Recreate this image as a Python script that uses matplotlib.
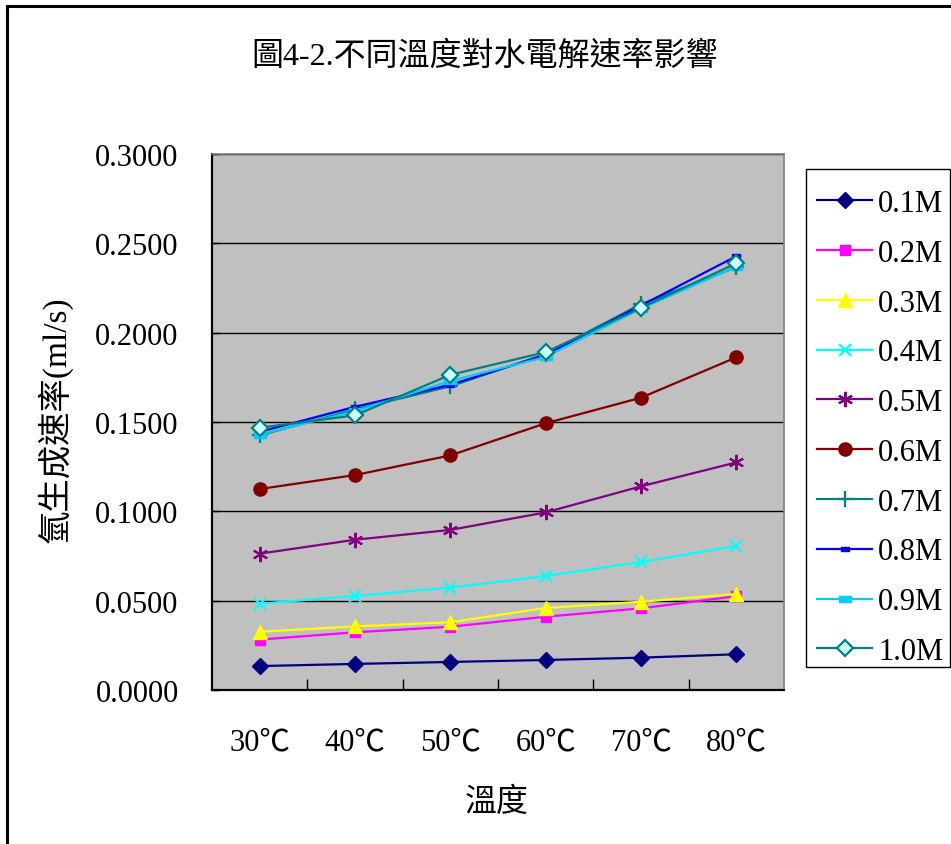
import matplotlib
matplotlib.use("Agg")
import matplotlib.pyplot as plt
from matplotlib.patches import Rectangle
from matplotlib.path import Path
import matplotlib.ticker as mticker

plt.rcParams['font.family'] = ['Liberation Serif', 'Noto Sans CJK TC']

# ---- data -------------------------------------------------------------
temperatures = ["30℃", "40℃", "50℃", "60℃", "70℃", "80℃"]
concentrations = ["0.1M", "0.2M", "0.3M", "0.4M", "0.5M",
                  "0.6M", "0.7M", "0.8M", "0.9M", "1.0M"]

rate_01M = [0.0134, 0.0146, 0.0157, 0.0168, 0.0181, 0.0200]
rate_02M = [0.0282, 0.0323, 0.0354, 0.0410, 0.0457, 0.0525]
rate_03M = [0.0326, 0.0356, 0.0379, 0.0459, 0.0494, 0.0537]
rate_04M = [0.0483, 0.0526, 0.0573, 0.0638, 0.0716, 0.0806]
rate_05M = [0.0763, 0.0841, 0.0896, 0.0994, 0.1140, 0.1274]
rate_06M = [0.1125, 0.1203, 0.1313, 0.1493, 0.1636, 0.1862]
rate_07M = [0.1425, 0.1570, 0.1700, 0.1880, 0.2160, 0.2366]
rate_08M = [0.1445, 0.1585, 0.1708, 0.1876, 0.2152, 0.2428]
rate_09M = [0.1430, 0.1560, 0.1730, 0.1864, 0.2135, 0.2370]
rate_10M = [0.1468, 0.1537, 0.1764, 0.1891, 0.2139, 0.2389]

rates = [rate_01M, rate_02M, rate_03M, rate_04M, rate_05M,
         rate_06M, rate_07M, rate_08M, rate_09M, rate_10M]

# ---- styles -----------------------------------------------------------
short_dash = Path([(-1, -0.45), (1, -0.45), (1, 0.45), (-1, 0.45), (-1, -0.45)],
                  [Path.MOVETO, Path.LINETO, Path.LINETO, Path.LINETO, Path.CLOSEPOLY])

styles = [
    dict(color="#000080", marker="D", ms=8.5, mfc="#000080", mec="#000080"),
    dict(color="#FF00FF", marker="s", ms=7.5, mfc="#FF00FF", mec="#FF00FF"),
    dict(color="#FFFF00", marker="^", ms=10, mfc="#FFFF00", mec="#FFFF00"),
    dict(color="#00FFFF", marker="x", ms=9, mew=1.6, mec="#00FFFF"),
    dict(color="#800080", marker=(6, 2, 0), ms=11, mew=1.5, mec="#800080"),
    dict(color="#800000", marker="o", ms=9.5, mfc="#800000", mec="#800000"),
    dict(color="#008080", marker="+", ms=11, mew=1.6, mec="#008080"),
    dict(color="#0000FF", marker=short_dash, ms=6, mfc="#0000FF", mec="#0000FF"),
    dict(color="#00CCFF", marker=short_dash, ms=9, mfc="#00CCFF", mec="#00CCFF"),
    dict(color="#008080", marker="D", ms=8.5, mew=1.6, mfc="#CCFFFF", mec="#008080"),
]

W, H = 951, 845
fig = plt.figure(figsize=(W / 100, H / 100), dpi=100)
fig.patch.set_facecolor("white")

left, right, top, bottom = 212, 784, 155, 691
ax = fig.add_axes([left / W, 1 - bottom / H, (right - left) / W, (bottom - top) / H])
ax.set_facecolor("#C0C0C0")

x = list(range(len(temperatures)))
for label, values, st in zip(concentrations, rates, styles):
    ax.plot(x, values, label=label, linewidth=1.6, clip_on=False, **st)

# axes
ax.set_xlim(-0.5, len(temperatures) - 0.5)
ax.set_ylim(0, 0.3)
ax.yaxis.set_major_locator(mticker.MultipleLocator(0.05))
ax.yaxis.set_major_formatter(mticker.FormatStrFormatter("%.4f"))
ax.grid(axis="y", color="black", linewidth=1)
ax.set_axisbelow(True)

ax.set_xticks([i + 0.5 for i in x[:-1]])
ax.set_xticklabels([])
ax.set_xticks(x, minor=True)
ax.set_xticklabels(temperatures, minor=True)
ax.tick_params(axis="x", which="major", direction="in", length=8, width=1, color="black")
ax.tick_params(axis="x", which="minor", length=0, pad=27, labelsize=22)
ax.tick_params(axis="y", direction="in", length=5, width=1, pad=24, labelsize=22)

for side in ("top", "right"):
    ax.spines[side].set_color("#808080")
    ax.spines[side].set_linewidth(1.2)
for side in ("left", "bottom"):
    ax.spines[side].set_color("black")
    ax.spines[side].set_linewidth(1.6)

ax.set_xlabel("溫度", fontsize=23, va="center", ha="center")
ax.xaxis.set_label_coords((497 - left) / (right - left), (bottom - 803) / (bottom - top))
ax.set_ylabel("氫生成速率(ml/s)", fontsize=24, va="center", ha="center")
ax.yaxis.set_label_coords((55 - left) / (right - left), (bottom - 420) / (bottom - top))

fig.text(485 / W, 1 - 57 / H, "圖4-2.不同溫度對水電解速率影響", fontsize=23,
         ha="center", va="center")

# legend entries, with a separate box drawn around them
leg = fig.legend(loc="upper left", bbox_to_anchor=(817 / W, 1 - 190 / H),
                 bbox_transform=fig.transFigure, borderaxespad=0,
                 fontsize=22, frameon=False,
                 handlelength=1.8, handletextpad=0.2, labelspacing=0.68,
                 borderpad=0.0, markerscale=1.0)
fig.patches.append(Rectangle((806 / W, 1 - 668 / H), 144 / W, 498 / H,
                             transform=fig.transFigure, facecolor="white",
                             edgecolor="black", linewidth=1.0, zorder=0))

# outer chart border
fig.patches.append(Rectangle((7 / W, -0.05), 1.2, 1 - 7 / H + 0.05,
                             transform=fig.transFigure, fill=False,
                             edgecolor="black", linewidth=2.2))

fig.savefig("out.png", dpi=100)
